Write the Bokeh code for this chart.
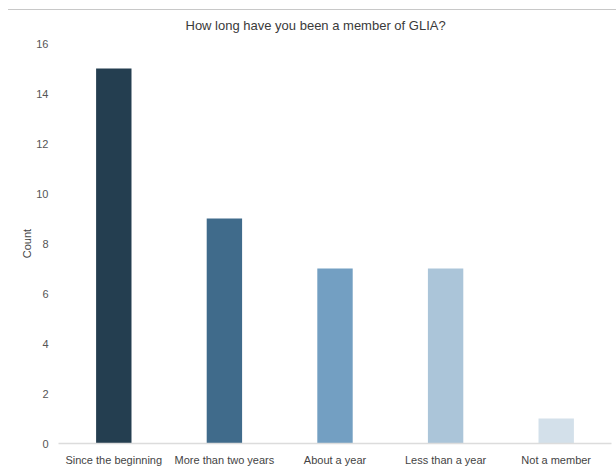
from bokeh.plotting import figure
from bokeh.models import ColumnDataSource, FactorRange, Range1d, FixedTicker, Title, InlineStyleSheet
from bokeh.embed import file_html
from bokeh.resources import INLINE

# Survey answers and their counts
categories = ["Since the beginning", "More than two years", "About a year",
              "Less than a year", "Not a member"]
counts = [15, 9, 7, 7, 1]
bar_colors = ["#243e50", "#406b8b", "#739fc2", "#abc5d9", "#d3e0ea"]
y_ticks = [0, 2, 4, 6, 8, 10, 12, 14, 16]

FONT = "Liberation Sans"

source = ColumnDataSource(dict(category=categories, count=counts, color=bar_colors))

p = figure(
    width=616, height=468,
    x_range=FactorRange(*categories, range_padding=0),
    y_range=Range1d(0, 16),
    output_backend="svg", toolbar_location=None,
    min_border_left=58, min_border_right=5,
    min_border_top=43, min_border_bottom=18,
)

# thin rule across the top of the page
p.stylesheets = [InlineStyleSheet(css="""
:host::before { content: ''; position: absolute; left: 8px; right: 0; top: 9px;
  border-top: 1px solid #c8c8c8; z-index: 10; }
""")]

p.vbar(x="category", top="count", width=0.32, color="color", line_color=None, source=source)

title = Title(text="How long have you been a member of GLIA?", align="left", offset=127,
              standoff=21,
              text_font=FONT, text_font_size="13px", text_font_style="normal",
              text_color="#3a3a3a")
p.add_layout(title, "above")

p.outline_line_color = None
p.background_fill_color = "white"
p.border_fill_color = "white"
p.xgrid.grid_line_color = None
p.ygrid.grid_line_color = None

xa = p.xaxis[0]
xa.axis_line_color = "#dcdcdc"
xa.axis_line_width = 1.5
xa.major_tick_line_color = None
xa.minor_tick_line_color = None
xa.major_tick_out = 0
xa.major_label_text_font = FONT
xa.major_label_text_font_size = "11px"
xa.major_label_text_color = "#444444"
xa.major_label_standoff = 10

ya = p.yaxis[0]
ya.ticker = FixedTicker(ticks=y_ticks)
ya.axis_line_color = None
ya.major_tick_line_color = None
ya.minor_tick_line_color = None
ya.major_tick_out = 0
ya.major_label_text_font = FONT
ya.major_label_text_font_size = "11px"
ya.major_label_text_color = "#555555"
ya.major_label_standoff = 10
ya.axis_label = "Count"
ya.axis_label_text_font = FONT
ya.axis_label_text_font_size = "11px"
ya.axis_label_text_font_style = "normal"
ya.axis_label_text_color = "#444444"
ya.axis_label_standoff = 0

open("out.html", "w").write(file_html(p, INLINE))
